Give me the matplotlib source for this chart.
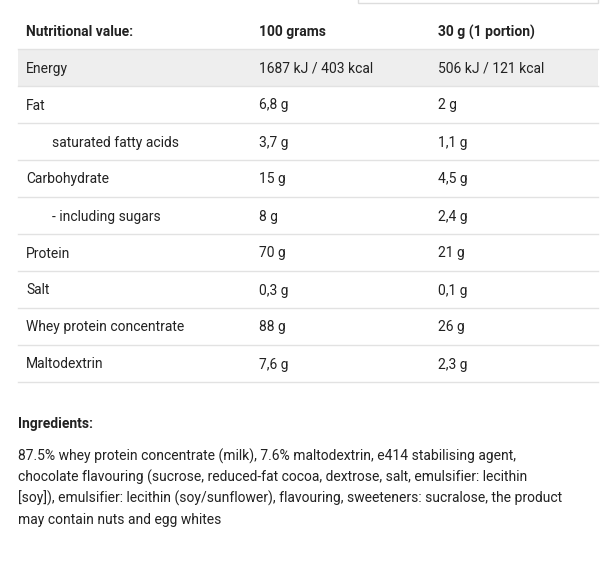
import matplotlib.pyplot as plt
from matplotlib.patches import Rectangle

headers = ["Nutritional value:", "100 grams", "30 g (1 portion)"]
nutrients = ["Energy", "Fat", "saturated fatty acids", "Carbohydrate",
             "- including sugars", "Protein", "Salt",
             "Whey protein concentrate", "Maltodextrin"]
indented = [False, False, True, False, True, False, False, False, False]
per_100g = ["1687 kJ / 403 kcal", "6,8 g", "3,7 g", "15 g", "8 g",
            "70 g", "0,3 g", "88 g", "7,6 g"]
per_portion = ["506 kJ / 121 kcal", "2 g", "1,1 g", "4,5 g", "2,4 g",
               "21 g", "0,1 g", "26 g", "2,3 g"]
ingredients_lines = [
    "87.5% whey protein concentrate (milk), 7.6% maltodextrin, e414 stabilising agent,",
    "chocolate flavouring (sucrose, reduced-fat cocoa, dextrose, salt, emulsifier: lecithin",
    "[soy]), emulsifier: lecithin (soy/sunflower), flavouring, sweeteners: sucralose, the product",
    "may contain nuts and egg whites",
]

plt.rcParams['font.family'] = ['Roboto', 'DejaVu Sans']
fig = plt.figure(figsize=(6.11, 5.77), dpi=100)
ax = fig.add_axes([0, 0, 1, 1])
ax.set_xlim(0, 611)
ax.set_ylim(577, 0)
ax.axis('off')

txt = '#222222'
fs = 10
col_x = [26, 259, 438]
left, right = 18, 598
row_h = 37
top = 49

# partial box at top right
ax.add_patch(Rectangle((358, -5), 240, 8, fill=False, ec='#dddddd', lw=1))

for x, h in zip(col_x, headers):
    ax.text(x, 32, h, fontsize=fs, fontweight='bold', color=txt, va='center')
ax.plot([left, right], [top, top], color='#e2e2e2', lw=1)

for i, name in enumerate(nutrients):
    y0 = top + i * row_h
    if i == 0:
        ax.add_patch(Rectangle((left, y0), right - left, row_h, color='#eeeeee', lw=0))
    yc = y0 + row_h / 2 + 1
    ax.text(col_x[0] + (26 if indented[i] else 0), yc, name, fontsize=fs, color=txt, va='center')
    ax.text(col_x[1], yc, per_100g[i], fontsize=fs, color=txt, va='center')
    ax.text(col_x[2], yc, per_portion[i], fontsize=fs, color=txt, va='center')
    ax.plot([left, right], [y0 + row_h, y0 + row_h], color='#e2e2e2', lw=1)

ax.text(18, 424, "Ingredients:", fontsize=fs, fontweight='bold', color=txt, va='center')
for j, line in enumerate(ingredients_lines):
    ax.text(18, 456 + j * 21.3, line, fontsize=fs, color=txt, va='center')

fig.savefig("out.png", dpi=100)
